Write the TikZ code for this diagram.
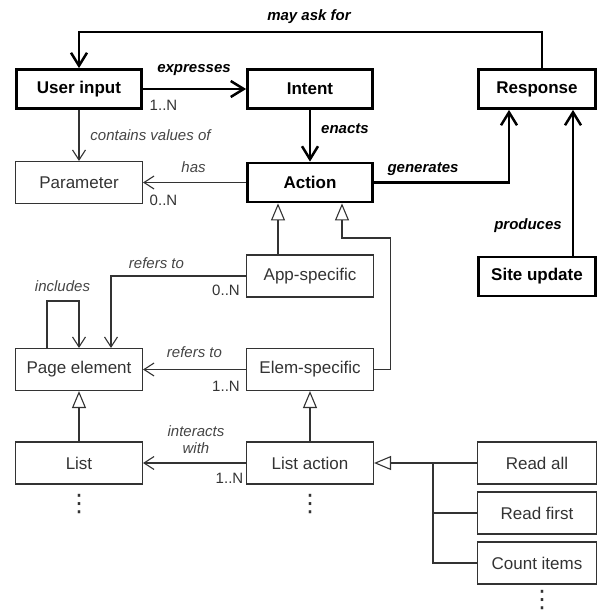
\documentclass[tikz,border=0pt]{standalone}
\usepackage{fontspec}
\setmainfont{Liberation Sans}
\newfontfamily\dvsans{DejaVu Sans}
\usetikzlibrary{arrows.meta}
\definecolor{ink}{HTML}{333333}
\definecolor{lab}{HTML}{454545}
\tikzset{
  thickbox/.style={draw=black, line width=2.8pt, minimum width=125pt, minimum height=39pt,
    inner sep=0pt, font=\fontsize{17}{20}\selectfont\bfseries, text=black},
  thinbox/.style={draw=ink, line width=1.1pt, minimum width=127pt, minimum height=42pt,
    inner sep=0pt, font=\fontsize{17}{20}\selectfont, text=ink},
  thk/.style={line width=2.5pt, draw=black},
  thn/.style={line width=1.1pt, draw=ink},
  bigarrow/.style={-{Straight Barb[length=13pt,width=16pt]}},
  smallarrow/.style={-{Straight Barb[length=10pt,width=13pt]}},
  tri/.style={-{Triangle[length=17pt,width=14pt,fill=white]}},
  blab/.style={anchor=base, inner sep=0pt, font=\fontsize{15}{17}\selectfont\bfseries\itshape, text=black},
  ilab/.style={anchor=base, inner sep=0pt, font=\fontsize{15}{17}\selectfont\itshape, text=lab},
  mult/.style={anchor=base, inner sep=0pt, font=\fontsize{15}{17}\selectfont, text=ink},
  vdotsnode/.style={anchor=base, inner sep=0pt, text=ink, font=\dvsans\fontsize{24}{24}\selectfont},
}
\begin{document}
\begin{tikzpicture}[x=1pt,y=-1pt]
\useasboundingbox (0,0) rectangle (597,610);

% boxes
\node[thickbox] (user) at (79,89) {User input};
\node[thickbox] (intent) at (310,89) {Intent};
\node[thickbox, minimum width=117pt] (resp) at (537,89) {Response};
\node[thinbox] (param) at (79,182.5) {Parameter};
\node[thickbox] (action) at (310,182.5) {Action};
\node[thinbox] (app) at (310,276) {App-specific};
\node[thickbox, minimum width=117pt] (site) at (537,276.5) {Site update};
\node[thinbox] (pe) at (79,369.5) {Page element};
\node[thinbox] (elem) at (310,369.5) {Elem-specific};
\node[thinbox] (list) at (79,463) {List};
\node[thinbox] (la) at (310,463) {List action};
\node[thinbox, minimum width=119pt] (ra) at (537,463) {Read all};
\node[thinbox, minimum width=119pt] (rf) at (537,513) {Read first};
\node[thinbox, minimum width=119pt] (ci) at (537,563) {Count items};

% thick connectors
\coordinate (mayy) at (0,32);
\coordinate (rtop) at ([xshift=5pt]resp.north);
\draw[thk, bigarrow] (rtop) -- (rtop |- mayy) -| (user.north);
\draw[thk, bigarrow] (user.east) -- (intent.west);
\draw[thk, bigarrow] (intent.south) -- (action.north);
\coordinate (rgen) at ([xshift=-28pt]resp.south);
\draw[thk, bigarrow] (action.east) -| (rgen);
\coordinate (sprod) at ([xshift=36pt]site.north);
\draw[thk, bigarrow] (sprod) -- (sprod |- resp.south);

% thin connectors
\draw[thn, smallarrow] (user.south) -- (param.north);
\draw[thn, smallarrow] (action.west) -- (param.east);
\draw[thn, tri] ([xshift=-32pt]app.north) -- ([xshift=-32pt]action.south);
\coordinate (ebend) at ([xshift=16pt]elem.east);
\coordinate (eup) at ([xshift=32pt]action.south);
\coordinate (ey) at (0,238);
\draw[thn, tri] (elem.east) -- (ebend) -- (ebend |- ey) -| (eup);
\coordinate (perf) at ([xshift=32pt]pe.north);
\draw[thn, smallarrow] (app.west) -| (perf);
\coordinate (inc) at ([xshift=-32pt]pe.north);
\coordinate (incy) at (0,301);
\draw[thn, smallarrow] (inc) -- (inc |- incy) -| (pe.north);
\draw[thn, smallarrow] (elem.west) -- (pe.east);
\draw[thn, tri] (list.north) -- (pe.south);
\draw[thn, tri] (la.north) -- (elem.south);
\draw[thn, smallarrow] (la.west) -- (list.east);
\coordinate (br) at (433,463);
\draw[thn, tri] (ra.west) -- (la.east);
\draw[thn] (rf.west) -| (br);
\draw[thn] (ci.west) -| (br);

% labels
\node[blab] (lmay) at (309,21) {may ask for};
\node[blab] (lexp) at (194,73) {expresses};
\node[mult] (mexp) at (163.5,110) {1..N};
\node[ilab] (lcont) at (150.5,140) {contains values of};
\node[ilab] (lhas) at (193.5,172) {has};
\node[mult] (mhas) at (163.5,205) {0..N};
\node[blab] (lenact) at (345,133) {enacts};
\node[blab] (lgen) at (423,172) {generates};
\node[blab] (lprod) at (528,229) {produces};
\node[ilab] (lref1) at (156.5,268) {refers to};
\node[mult] (mref1) at (226,295) {0..N};
\node[ilab] (linc) at (62.5,291) {includes};
\node[ilab] (lref2) at (194.5,357) {refers to};
\node[mult] (mref2) at (226,391) {1..N};
\node[ilab] (lint1) at (196,436) {interacts};
\node[ilab] (lint2) at (196,453) {with};
\node[mult] (mint) at (229.5,483) {1..N};

% ellipses
\node[vdotsnode] (d1) at (79,511) {⋮};
\node[vdotsnode] (d2) at (310,511) {⋮};
\node[vdotsnode] (d3) at (542,607) {⋮};
\end{tikzpicture}
\end{document}
